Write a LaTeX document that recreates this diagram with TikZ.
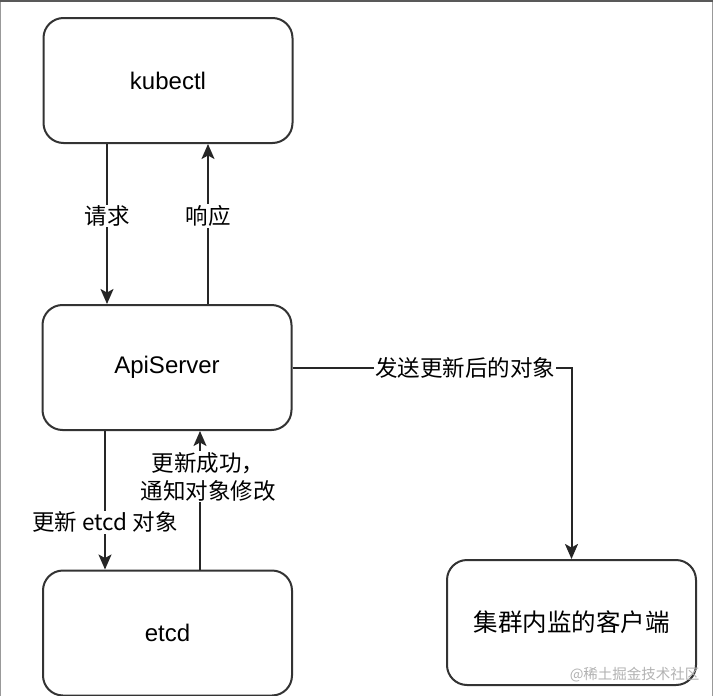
\documentclass[tikz,border=0pt]{standalone}
\usepackage{fontspec}
\setmainfont{Liberation Sans}
\newfontfamily\cjk{Noto Sans CJK SC}
\usetikzlibrary{arrows.meta,positioning,calc}

\begin{document}
\begin{tikzpicture}[x=1pt,y=-1pt,
    box/.style={draw=black!80,line width=2pt,rounded corners=20pt,
      minimum width=249pt,minimum height=125pt,inner sep=0pt,
      font=\fontsize{24}{28}\selectfont},
    conn/.style={draw=black!85,line width=2pt,-{Stealth[length=15pt,width=13pt,inset=3.5pt]}},
    lbl/.style={fill=white,inner sep=1pt,font=\cjk\fontsize{22.5}{28}\selectfont}]
      \useasboundingbox (0,0) rectangle (713,696);
      \draw[black!40,line width=1pt] (0.5,696) -- (0.5,0.5) -- (712.5,0.5) -- (712.5,696);
      \draw[black!65,line width=1.5pt] (0,0.75) -- (713,0.75);
      \node[box] (kubectl) at (168,80.5) {kubectl};
      \node[box] (api) at (167,367.5) {ApiServer};
      \node[box] (etcd) at (167.5,633) {etcd};
      \node[box,font=\cjk\fontsize{24.5}{28}\selectfont] (client) at (571.5,622.5) {集群内监的客户端};
      \draw[conn] ([xshift=-61pt]kubectl.south) -- ([xshift=-60pt]api.north) node[lbl,pos=0.45] {请求};
      \draw[conn] ([xshift=41pt]api.north) -- ([xshift=40pt]kubectl.south) node[lbl,pos=0.55] {响应};
      \draw[conn] ([xshift=-62pt]api.south) -- ([xshift=-62.5pt]etcd.north) node[lbl,pos=0.66] {更新 etcd 对象};
      \draw[conn] ([xshift=32.5pt]etcd.north) -- ([xshift=33pt]api.south)
        node[lbl,pos=0.67,xshift=8pt,align=center] {更新成功，\\通知对象修改};
      \draw[conn] (api.east) -| (client.north) node[lbl,pos=0.31] {发送更新后的对象};
      \node[black!30,font=\cjk\fontsize{14.5}{16}\selectfont,anchor=east] (mark) at (703,675) {@稀土掘金技术社区};
    \end{tikzpicture}
\end{document}
